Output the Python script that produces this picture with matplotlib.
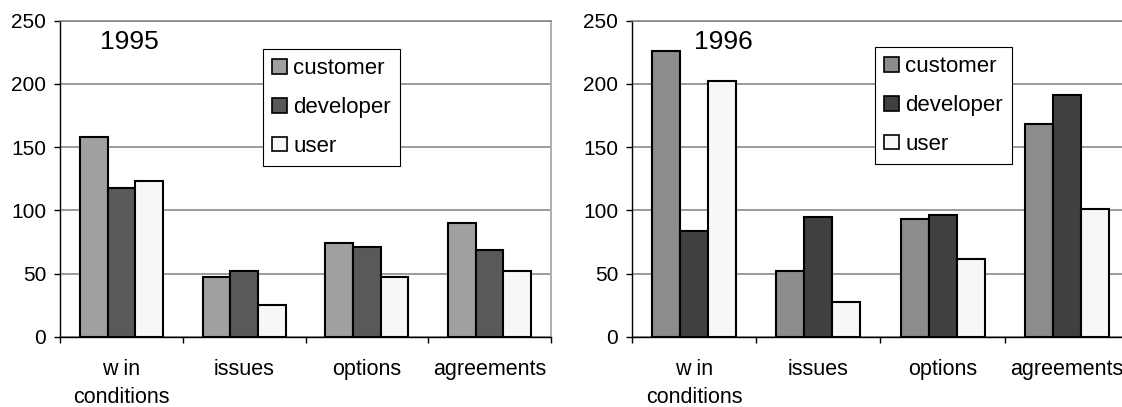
import matplotlib
matplotlib.use("Agg")
import matplotlib.pyplot as plt
import numpy as np

plt.rcParams['font.family'] = ['Liberation Sans', 'DejaVu Sans']

categories = ["w in\nconditions", "issues", "options", "agreements"]
series = ["customer", "developer", "user"]
values_1995 = {
    "customer": [158, 47, 74, 90],
    "developer": [118, 52, 71, 69],
    "user": [123, 25, 47, 52],
}
values_1996 = {
    "customer": [226, 52, 93, 168],
    "developer": [84, 95, 96, 191],
    "user": [202, 28, 62, 101],
}
years = ["1995", "1996"]
yticks = [0, 50, 100, 150, 200, 250]

colors_1995 = {"customer": "#A0A0A0", "developer": "#595959", "user": "#F7F7F7"}
colors_1996 = {"customer": "#8C8C8C", "developer": "#404040", "user": "#F7F7F7"}

W, H = 1122, 407
fig = plt.figure(figsize=(W / 100, H / 100), dpi=100)

def px_axes(x0, x1, ytop, ybot):
    return [x0 / W, 1 - ybot / H, (x1 - x0) / W, (ybot - ytop) / H]

ax1 = fig.add_axes(px_axes(60, 551, 20.5, 337))
ax2 = fig.add_axes(px_axes(632, 1129, 20.5, 337))

configs = [
    (ax1, values_1995, colors_1995, years[0], (129.5, 42), (263, 49)),
    (ax2, values_1996, colors_1996, years[1], (723, 42), (875, 47)),
]

bw = 0.225
x = np.arange(len(categories))
for ax, vals, cols, yr, ypos, lpos in configs:
    for i, s in enumerate(series):
        ax.bar(x + (i - 1) * bw, vals[s], width=bw, color=cols[s],
               edgecolor="black", linewidth=1.5, label=s, zorder=3)
    ax.set_xlim(-0.5, len(categories) - 0.5)
    ax.set_ylim(0, 250)
    ax.set_yticks(yticks)
    ax.set_yticklabels([str(v) for v in yticks], fontsize=15)
    ax.tick_params(axis="y", direction="out", length=4, width=1, pad=6, colors="black")
    ax.set_xticks(np.arange(-0.5, len(categories), 1.0))
    ax.set_xticklabels([])
    ax.tick_params(axis="x", which="major", direction="out", length=4.5, width=1, color="black")
    ax.set_xticks(x, minor=True)
    ax.set_xticklabels(categories, minor=True, fontsize=15.5, linespacing=1.45)
    ax.tick_params(axis="x", which="minor", length=0, pad=15.5)
    ax.yaxis.grid(True, color="#808080", linewidth=1.1)
    ax.set_axisbelow(True)
    ax.spines["top"].set_color("#808080")
    ax.spines["top"].set_linewidth(1.1)
    ax.spines["right"].set_color("#A8A8A8")
    ax.spines["right"].set_linewidth(1.3)
    ax.spines["left"].set_color("black")
    ax.spines["left"].set_linewidth(1.0)
    ax.spines["bottom"].set_color("black")
    ax.spines["bottom"].set_linewidth(1.0)
    fig.text(ypos[0] / W, 1 - ypos[1] / H, yr, fontsize=19, ha="center", va="center")
    leg = ax.legend(loc="upper left", bbox_to_anchor=(lpos[0] / W, 1 - lpos[1] / H),
                    bbox_transform=fig.transFigure, borderaxespad=0,
                    fontsize=16, handlelength=0.65, handleheight=0.65,
                    handletextpad=0.3, labelspacing=0.8, borderpad=0.42,
                    fancybox=False, shadow=False, framealpha=1)
    leg.get_frame().set_edgecolor("black")
    leg.get_frame().set_linewidth(0.8)
    for p in leg.get_patches():
        p.set_linewidth(1.2)

fig.savefig("out.png", dpi=100)
